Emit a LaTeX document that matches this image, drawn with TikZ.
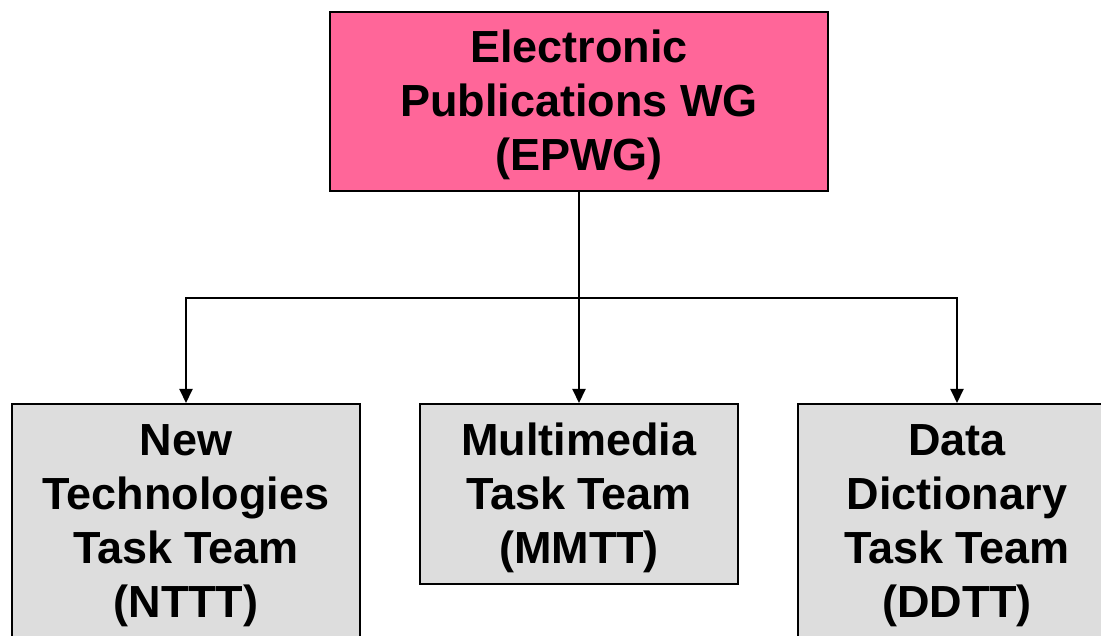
\documentclass[tikz,border=0pt]{standalone}
\usepackage{fontspec}
\setmainfont{Liberation Sans}
\usetikzlibrary{arrows.meta}
\definecolor{epink}{HTML}{FF6699}
\definecolor{egrey}{HTML}{DDDDDD}
\newcommand{\toppad}{\rule{0pt}{40pt}}
\begin{document}
\begin{tikzpicture}[x=1pt,y=-1pt,
  box/.style={draw=black,line width=2pt,rectangle,inner sep=0pt,align=center,
    font=\fontsize{45}{54}\selectfont\bfseries},
  topbox/.style={box,fill=epink,minimum width=498pt,minimum height=179pt},
  teambox/.style={box,fill=egrey},
  link/.style={line width=2pt},
  arrowlink/.style={link,-{Triangle[width=13pt,length=14pt]}}]
\useasboundingbox (0,0) rectangle (1101,636);
\clip (0,0) rectangle (1101,636);
\fill[white] (0,0) rectangle (1101,636);
\node[topbox] (ep) at (579,101.5) {\toppad Electronic\\Publications WG\\(EPWG)};
\node[teambox,minimum width=348pt,minimum height=235pt] (nt) at (186,521.5) {\toppad New\\Technologies\\Task Team\\(NTTT)};
\node[teambox,minimum width=318pt,minimum height=180pt] (mm) at (579,494) {\toppad Multimedia\\Task Team\\(MMTT)};
\node[teambox,minimum width=318pt,minimum height=235pt] (dd) at (957,521.5) {\toppad Data\\Dictionary\\Task Team\\(DDTT)};
\coordinate (bus) at (579,298);
\draw[link] (ep.south) -- (bus);
\draw[arrowlink] (bus) -| (nt.north);
\draw[arrowlink] (bus) -- (mm.north);
\draw[arrowlink] (bus) -| (dd.north);
\end{tikzpicture}
\end{document}
